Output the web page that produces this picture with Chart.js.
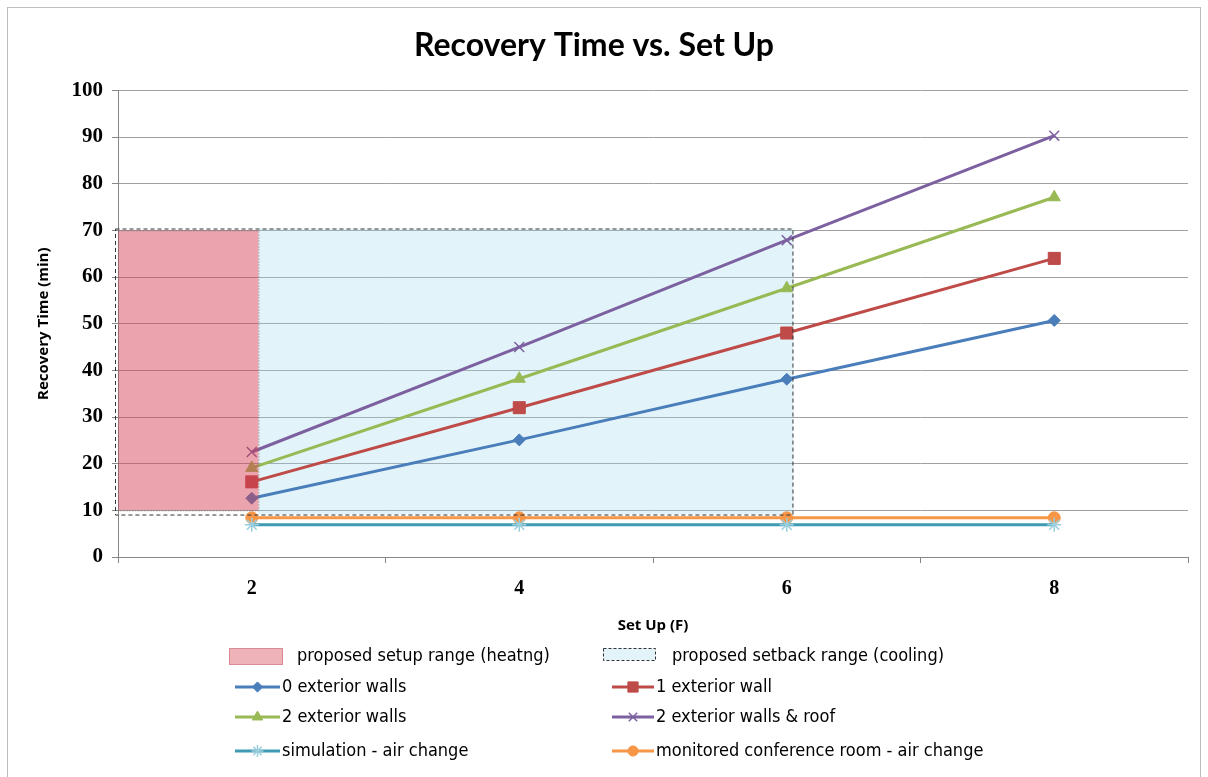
<!DOCTYPE html>
<html lang="en">
<head>
  <meta charset="UTF-8" />
  <title>Recovery Time vs. Set Up</title>
  <script src="https://cdn.jsdelivr.net/npm/chart.js"></script>
  <style>
    body { margin: 0; background: #fff; }
    #wrap { width: 1208px; height: 777px; position: relative; }
  </style>
</head>
<body>
  <div id="wrap"><canvas id="recoveryChart"></canvas></div>

  <script>
    // categories (Set Up, F)
    const setUp = ['2', '4', '6', '8'];

    // recovery time (min)
    const walls0 = [12.6, 25.1, 38.1, 50.7];
    const wall1 = [16.1, 32.0, 48.0, 64.0];
    const walls2 = [19.1, 38.2, 57.6, 77.1];
    const wallsRoof = [22.5, 45.0, 67.9, 90.3];
    const simAirChange = [6.9, 6.9, 6.9, 6.9];
    const monitoredAirChange = [8.4, 8.4, 8.4, 8.4];

    // shaded ranges, in Set Up (F) and minutes
    const heatingX = [1, 2.05];
    const heatingY = [10, 70];
    const coolingX = [1, 6.05];
    const coolingY = [9.1, 70.4];

    const yTicks = [0, 10, 20, 30, 40, 50, 60, 70, 80, 90, 100];

    const FONT = 'Lato, "Open Sans", sans-serif';
    const AXIS_TITLE_FONT = '"Open Sans", Lato, sans-serif';
    const TICK_FONT = '"Liberation Serif", "DejaVu Serif", serif';
    const LEGEND_FONT = '18px "Liberation Sans Narrow", "DejaVu Sans Condensed", sans-serif';
    const HEAT_FILL = 'rgba(212, 62, 80, 0.47)';
    const COOL_FILL = 'rgba(160, 218, 240, 0.3)';
    const toIndex = f => (f - 2) / 2;

    function series(label, data, color, style, radius) {
      return {
        label, data,
        borderColor: color,
        backgroundColor: color,
        borderWidth: 3,
        pointStyle: style,
        pointRadius: radius,
        pointHoverRadius: radius,
        pointBorderWidth: style === 'crossRot' || style === 'star' ? 1.5 : 1,
        tension: 0
      };
    }

    const datasets = [
      series('0 exterior walls', walls0, '#4A7EBB', 'rectRot', 6),
      series('1 exterior wall', wall1, '#BE4B48', 'rect', 8.5),
      series('2 exterior walls', walls2, '#98B954', 'triangle', 7),
      series('2 exterior walls & roof', wallsRoof, '#7D60A0', 'crossRot', 7),
      series('simulation - air change', simAirChange, '#3F9BB3', 'star', 7),
      series('monitored conference room - air change', monitoredAirChange, '#F79646', 'circle', 6)
    ];
    datasets[4].pointBorderColor = '#9CCFDD';

    function drawMarker(ctx, ds, x, y) {
      ctx.save();
      ctx.fillStyle = ds.backgroundColor;
      ctx.strokeStyle = ds.pointBorderColor || ds.borderColor;
      ctx.lineWidth = ds.pointBorderWidth;
      Chart.helpers.drawPoint(ctx, {
        pointStyle: ds.pointStyle,
        radius: ds.pointRadius * 0.85,
        rotation: 0,
        borderWidth: ds.pointBorderWidth
      }, x, y);
      ctx.restore();
    }

    const rangesPlugin = {
      id: 'ranges',
      beforeDatasetsDraw(chart) {
        const { ctx, scales: { x, y } } = chart;
        ctx.save();
        // light blue fill only where the red box does not sit
        ctx.fillStyle = COOL_FILL;
        const x0 = x.getPixelForValue(toIndex(heatingX[1]));
        const x1 = x.getPixelForValue(toIndex(coolingX[1]));
        ctx.fillRect(x0, y.getPixelForValue(coolingY[1]), x1 - x0,
          y.getPixelForValue(coolingY[0]) - y.getPixelForValue(coolingY[1]));
        ctx.restore();
      },
      afterDatasetsDraw(chart) {
        const { ctx, scales: { x, y } } = chart;
        ctx.save();
        const hx0 = x.getPixelForValue(toIndex(heatingX[0]));
        const hx1 = x.getPixelForValue(toIndex(heatingX[1]));
        const hy0 = y.getPixelForValue(heatingY[1]);
        const hy1 = y.getPixelForValue(heatingY[0]);
        ctx.fillStyle = HEAT_FILL;
        ctx.fillRect(hx0, hy0, hx1 - hx0, hy1 - hy0);
        ctx.strokeStyle = '#7a7a7a';
        ctx.lineWidth = 1;
        ctx.setLineDash([1, 2]);
        ctx.strokeRect(hx0 + 0.5, hy0 + 0.5, hx1 - hx0, hy1 - hy0);

        const cx0 = x.getPixelForValue(toIndex(coolingX[0]));
        const cx1 = x.getPixelForValue(toIndex(coolingX[1]));
        const cy0 = y.getPixelForValue(coolingY[1]);
        const cy1 = y.getPixelForValue(coolingY[0]);
        ctx.strokeStyle = '#333';
        ctx.setLineDash([4, 3]);
        ctx.strokeRect(cx0 - 2.5, cy0 + 0.5, cx1 - cx0 + 2, cy1 - cy0);
        ctx.restore();
      },
      afterDraw(chart) {
        const { ctx } = chart;
        ctx.save();
        // outer frame
        ctx.strokeStyle = '#bdbdbd';
        ctx.lineWidth = 1;
        ctx.strokeRect(7.5, 7.5, 1193, 800);

        ctx.font = LEGEND_FONT;
        ctx.textBaseline = 'middle';
        ctx.textAlign = 'left';

        // range swatches
        ctx.fillStyle = 'rgba(212, 62, 80, 0.4)';
        ctx.fillRect(229, 648, 53, 16);
        ctx.strokeStyle = '#d98c94';
        ctx.strokeRect(229.5, 648.5, 53, 16);
        ctx.fillStyle = COOL_FILL;
        ctx.fillRect(603, 648, 52, 12);
        ctx.strokeStyle = '#333';
        ctx.setLineDash([3, 2]);
        ctx.strokeRect(603.5, 648.5, 52, 12);
        ctx.setLineDash([]);
        ctx.fillStyle = '#000';
        ctx.fillText('proposed setup range (heatng)', 297, 656);
        ctx.fillText('proposed setback range (cooling)', 672, 656);

        const rows = [687, 717, 751];
        datasets.forEach((ds, i) => {
          const row = rows[Math.floor(i / 2)];
          const left = i % 2 === 0;
          const lx0 = left ? 235 : 612;
          const lx1 = left ? 280 : 654;
          ctx.strokeStyle = ds.borderColor;
          ctx.lineWidth = 3;
          ctx.beginPath();
          ctx.moveTo(lx0, row);
          ctx.lineTo(lx1, row);
          ctx.stroke();
          drawMarker(ctx, ds, (lx0 + lx1) / 2, row);
          ctx.fillStyle = '#000';
          ctx.fillText(ds.label, lx1 + 2, row);
        });
        ctx.restore();
      }
    };

    new Chart(document.getElementById('recoveryChart'), {
      type: 'line',
      data: { labels: setUp, datasets },
      options: {
        responsive: true,
        maintainAspectRatio: false,
        animation: false,
        layout: { padding: { left: 0, right: 20, top: 0, bottom: 135 } },
        plugins: {
          legend: { display: false },
          tooltip: { enabled: false },
          title: {
            display: true,
            text: 'Recovery Time vs. Set Up',
            color: '#000',
            font: { family: FONT, size: 32, weight: 'bold', lineHeight: 1.2 },
            padding: { top: 26, bottom: 26 }
          }
        },
        scales: {
          x: {
            type: 'category',
            offset: true,
            grid: { offset: true, drawOnChartArea: false, tickLength: 6, tickColor: '#868686' },
            border: { color: '#868686' },
            ticks: { color: '#000', font: { family: TICK_FONT, size: 20, weight: 'bold' }, padding: 14 },
            title: {
              display: true, text: 'Set Up (F)', color: '#000',
              font: { family: AXIS_TITLE_FONT, size: 15, weight: 'bold', lineHeight: 1.2 },
              padding: { top: 0, bottom: 7 }
            },
            afterFit(scale) { scale.height = 85; }
          },
          y: {
            min: 0, max: 100,
            afterBuildTicks(scale) { scale.ticks = yTicks.map(v => ({ value: v })); },
            grid: { color: '#a0a0a0', tickLength: 6, tickColor: '#868686' },
            border: { color: '#868686' },
            ticks: { color: '#000', font: { family: TICK_FONT, size: 21, weight: 'bold' }, padding: 9 },
            title: {
              display: true, text: 'Recovery Time (min)', color: '#000',
              font: { family: AXIS_TITLE_FONT, size: 15, weight: 'bold', lineHeight: 1.2 },
              padding: { top: 35, bottom: 0 }
            },
            afterFit(scale) { scale.width = 118; }
          }
        }
      },
      plugins: [rangesPlugin]
    });
  </script>
</body>
</html>
